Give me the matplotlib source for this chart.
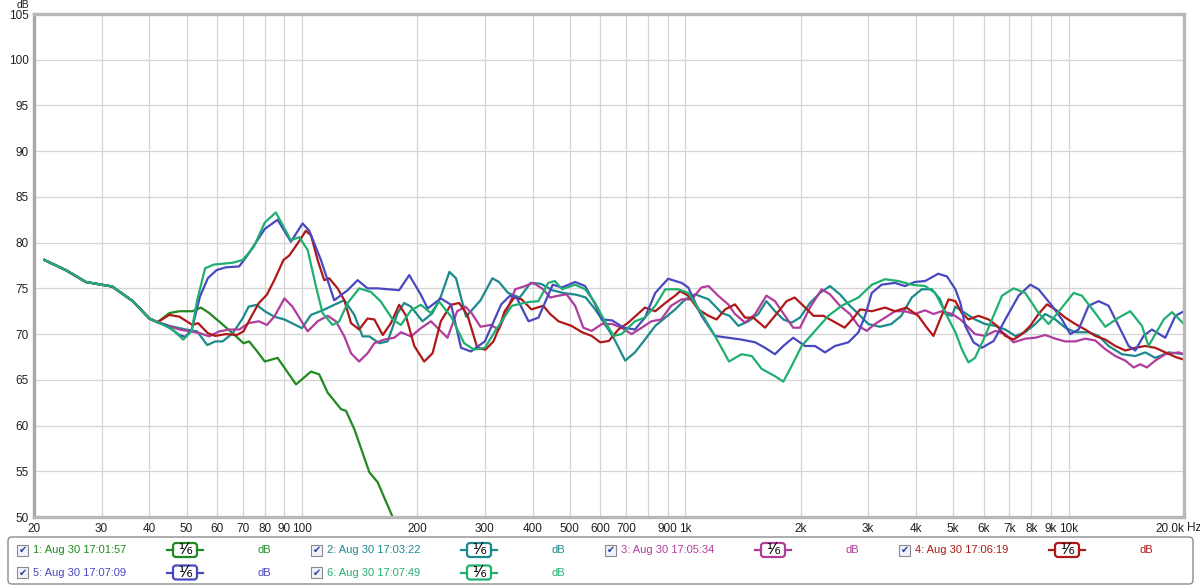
import matplotlib
matplotlib.use("Agg")
import matplotlib.pyplot as plt
from matplotlib.patches import Rectangle, FancyBboxPatch
from matplotlib.ticker import NullLocator

plt.rcParams["font.family"] = ["Liberation Sans", "DejaVu Sans"]

# --- data --------------------------------------------------------------------
COMMON_HZ = [21.3, 24.2, 27.3, 30.0, 32.0, 36.2, 40.0, 42.0]
COMMON_DB = [78.1, 77.0, 75.7, 75.4, 75.2, 73.6, 71.7, 71.3]

HZ_1 = COMMON_HZ + [45.1, 47.9, 51.8, 54.5, 57.3, 61.5, 65.9, 70.4, 72.8, 75.8, 80, 86.4,
                    96.5, 105.6, 110.9, 116.7, 126.4, 130.3, 137.0, 149.9, 157.6, 172.4, 180]
DB_1 = COMMON_DB + [72.3, 72.5, 72.5, 72.9, 72.3, 71.2, 70.1, 69.0, 69.2, 68.3, 67.0, 67.4,
                    64.5, 65.9, 65.6, 63.6, 61.8, 61.6, 59.6, 54.9, 53.8, 50.0, 48.0]

HZ_2 = COMMON_HZ + [45.1, 49.8, 53.3, 56.6, 59.4, 62.1, 66, 70, 72.6, 76.2, 80, 84.7, 90, 100,
                    105.6, 113.2, 121.4, 129, 137, 143.9, 149.9, 159.1, 167.3, 177.7, 184.8,
                    192.5, 206.3, 219.1, 230.3, 242.5, 252.3, 268, 292.4, 313.9, 326.5, 345,
                    370, 395, 420, 450, 480, 520, 550, 582, 606, 650, 697, 739, 785, 835, 887,
                    941, 1000, 1061, 1150, 1246, 1305, 1376, 1461, 1551, 1628, 1714, 1802,
                    1894, 1992, 2115, 2246, 2385, 2532, 2688, 2830, 3004, 3218, 3448, 3660,
                    3898, 4139, 4396, 4620, 4773, 4968, 5062, 5373, 5699, 6060, 6435, 6835,
                    7260, 7707, 8185, 8693, 9230, 9802, 10409, 11276, 11976, 12715, 13771,
                    14924, 15847, 16831, 18243, 20000]
DB_2 = COMMON_DB + [70.9, 70.5, 70.3, 68.8, 69.2, 69.2, 70.1, 71.7, 73.0, 73.2, 72.5, 71.9, 71.6,
                    70.65, 72.1, 72.6, 73.2, 73.7, 72.1, 69.75, 69.75, 69.0, 69.2, 72.3, 73.4,
                    73.0, 71.4, 72.3, 74.1, 76.8, 76.1, 71.9, 73.7, 76.1, 75.7, 74.5, 74.0,
                    75.6, 75.5, 74.8, 74.5, 74.3, 74.0, 72.7, 71.6, 69.6, 67.1, 68.0, 69.4,
                    70.9, 71.8, 72.7, 73.8, 74.35, 73.8, 72.3, 72.0, 70.9, 71.4, 72.2, 73.6,
                    72.5, 71.6, 71.25, 71.8, 73.4, 74.5, 75.25, 74.35, 73.1, 72.2, 71.1, 70.8,
                    71.1, 72.0, 74.0, 74.9, 74.9, 73.8, 72.2, 72.0, 73.0, 72.3, 71.6, 71.1,
                    70.9, 70.5, 69.8, 70.2, 71.1, 72.2, 71.6, 70.7, 70.2, 70.2, 69.8, 68.7,
                    67.8, 67.6, 68.0, 67.4, 68.0, 67.8]

HZ_3 = COMMON_HZ + [44.1, 47.9, 54.2, 57.3, 60.9, 64.8, 68.6, 72.6, 77.2, 81, 84.7, 90, 94.5,
                    103.5, 109.9, 116.7, 122.6, 129, 134.3, 141, 148.3, 154.5, 164, 174.1,
                    181.3, 192.5, 204.3, 217, 228, 239.7, 254, 267, 277, 292.4, 310, 326.5,
                    342, 360, 382, 401, 426, 444, 467, 490, 516, 542, 570, 606, 644, 682, 724,
                    770, 816, 865, 919, 978, 1040, 1102, 1150, 1218, 1294, 1348, 1432, 1522,
                    1628, 1714, 1820, 1912, 1992, 2115, 2269, 2385, 2532, 2688, 2830, 2974,
                    3124, 3321, 3523, 3741, 3970, 4222, 4440, 4666, 4968, 5220, 5373, 5699,
                    6060, 6435, 6835, 7186, 7707, 8185, 8693, 9230, 9802, 10409, 11050, 11737,
                    12466, 13239, 14060, 14776, 15382, 16000, 16831, 17876, 19375, 20000]
DB_3 = COMMON_DB + [71.0, 70.5, 70.1, 69.75, 70.3, 70.5, 70.5, 71.2, 71.4, 71.0, 71.9, 73.9,
                    73.0, 70.3, 71.4, 72.0, 71.4, 69.75, 67.9, 67.0, 67.9, 69.0, 69.4, 69.6,
                    70.2, 69.75, 70.65, 71.4, 70.5, 69.6, 72.5, 73.0, 72.3, 70.8, 71.0, 70.5,
                    72.5, 74.9, 75.25, 75.6, 74.9, 74.0, 74.2, 74.35, 73.1, 70.7, 70.35, 71.1,
                    71.1, 70.7, 70.0, 70.7, 71.4, 71.6, 73.1, 73.8, 73.8, 75.1, 75.25, 74.2,
                    73.25, 72.2, 71.25, 72.2, 74.2, 73.6, 72.0, 70.7, 70.7, 72.9, 74.9, 74.35,
                    73.1, 72.2, 70.9, 70.35, 71.1, 71.8, 72.5, 72.5, 72.2, 72.6, 72.2, 72.5,
                    72.2, 71.6, 71.1, 70.0, 69.8, 70.35, 70.0, 69.1, 69.5, 69.6, 69.9, 69.5,
                    69.2, 69.2, 69.5, 69.3, 68.35, 67.6, 67.1, 66.35, 66.7, 66.35, 67.1, 67.8,
                    68.0, 67.8]

HZ_4 = COMMON_HZ + [45.1, 47.9, 51.8, 53.6, 56.8, 59.4, 63.3, 67.6, 70.4, 73.3, 77.2, 81, 84.7,
                    89.5, 92.7, 97.4, 102.4, 105.6, 109.9, 114.3, 117.8, 123.9, 129, 134.3, 141,
                    148.3, 154.5, 162.5, 170.7, 179.3, 186.4, 196.4, 208.4, 219.1, 230.3, 244.6,
                    257.2, 270.1, 286.7, 301, 316, 326.5, 338, 358, 374, 397, 426, 444, 467, 505,
                    538, 570, 600, 632, 669, 710, 785, 835, 887, 941, 970, 1018, 1081, 1150,
                    1207, 1270, 1348, 1432, 1505, 1615, 1714, 1838, 1930, 2032, 2161, 2292,
                    2433, 2605, 2751, 2859, 3066, 3321, 3523, 3776, 4052, 4268, 4440, 4620,
                    4864, 5066, 5266, 5478, 5819, 6185, 6503, 6835, 7186, 7555, 7942, 8349,
                    8779, 9230, 9802, 10409, 11050, 11737, 12466, 13239, 14060, 14924, 15847,
                    16831, 17876, 18996, 20000]
DB_4 = COMMON_DB + [72.1, 71.9, 71.0, 71.2, 70.1, 69.8, 70.0, 69.9, 70.3, 71.7, 73.4, 74.3, 75.9,
                    78.1, 78.6, 79.9, 81.3, 80.8, 78.1, 75.9, 76.1, 75.0, 73.7, 71.2, 70.5,
                    71.7, 71.6, 69.9, 71.2, 73.2, 72.1, 68.7, 67.0, 67.9, 71.4, 73.2, 73.4,
                    72.1, 68.5, 68.3, 69.2, 70.65, 72.5, 74.0, 73.8, 72.7, 73.1, 72.2, 71.4,
                    70.9, 70.2, 69.8, 69.1, 69.25, 70.5, 71.25, 72.9, 72.5, 73.4, 74.2, 74.7,
                    74.2, 72.7, 72.0, 71.6, 72.7, 73.25, 71.8, 71.8, 70.7, 72.0, 73.6, 74.0,
                    73.1, 72.0, 72.0, 71.4, 70.7, 71.8, 72.7, 72.5, 72.9, 72.5, 72.9, 72.0,
                    70.7, 69.8, 71.6, 73.8, 73.6, 72.3, 71.6, 72.0, 71.6, 70.9, 69.8, 69.4,
                    70.0, 70.9, 72.2, 73.25, 72.7, 71.8, 71.1, 70.5, 69.8, 69.4, 68.7, 68.2,
                    68.5, 68.7, 68.5, 68.0, 67.5, 67.2]

HZ_5 = COMMON_HZ + [44.1, 47.9, 49.6, 51.6, 54.2, 56.8, 59.9, 63.3, 68.6, 72.6, 80, 86.4, 93.6,
                    100.4, 104.5, 112.1, 121.4, 131.6, 139.7, 148.3, 157.6, 179.3, 190.5, 204.3,
                    212.8, 230.3, 245, 260, 276, 300, 331, 349, 363, 390, 414, 451, 477, 516,
                    548, 582, 606, 644, 691, 739, 785, 835, 902, 978, 1018, 1102, 1195, 1294,
                    1402, 1522, 1615, 1714, 1802, 1912, 2053, 2180, 2315, 2458, 2664, 2830,
                    2945, 3066, 3251, 3523, 3741, 3970, 4222, 4570, 4817, 5066, 5220, 5373,
                    5650, 5942, 6376, 6835, 7407, 7942, 8349, 9048, 9607, 10101, 10619, 11276,
                    11976, 12715, 13505, 14342, 14924, 15690, 16493, 17876, 18996, 20000]
DB_5 = COMMON_DB + [71.0, 69.9, 69.7, 70.5, 74.1, 76.1, 77.0, 77.3, 77.4, 78.8, 81.5, 82.5, 80.1,
                    82.1, 81.3, 78.1, 73.7, 74.8, 75.9, 75.0, 75.0, 74.8, 76.45, 74.3, 72.8,
                    73.9, 73.2, 68.5, 68.1, 69.2, 73.25, 74.2, 74.0, 71.4, 71.8, 75.4, 75.1,
                    75.7, 75.25, 73.25, 71.6, 71.5, 70.7, 70.5, 71.8, 74.5, 76.05, 75.6, 75.1,
                    72.0, 69.8, 69.6, 69.4, 69.1, 68.5, 67.8, 68.7, 69.6, 68.7, 68.7, 68.0,
                    68.7, 69.1, 70.2, 72.0, 74.5, 75.4, 75.6, 75.25, 75.7, 75.8, 76.6, 76.3,
                    74.9, 73.4, 70.9, 69.1, 68.5, 69.25, 71.6, 74.2, 75.4, 74.9, 73.1, 71.6,
                    70.0, 70.5, 73.1, 73.6, 73.1, 70.9, 68.7, 68.2, 69.8, 70.5, 69.6, 72.0, 72.5]

HZ_6 = COMMON_HZ + [46.0, 49.0, 51.5, 53.3, 55.9, 58.9, 65.9, 70, 74.8, 80, 85.5, 93.6, 98.4,
                    103.5, 108.8, 113.2, 120.2, 125.1, 131.6, 141.1, 151.4, 160.7, 172.4, 181.3,
                    192.5, 204.3, 217, 228, 245, 265, 281, 300, 320, 353, 389.6, 413.8, 439,
                    457, 477, 516, 548, 582, 606, 650, 682, 739, 785, 835, 887, 959, 1018, 1102,
                    1195, 1270, 1300, 1402, 1491, 1582, 1714, 1802, 1894, 2012, 2180, 2362,
                    2559, 2830, 3066, 3321, 3598, 3898, 4222, 4486, 4773, 5066, 5266, 5478,
                    5699, 6000, 6311, 6703, 7186, 7707, 8349, 8867, 9607, 10305, 10834, 11737,
                    12466, 13505, 14485, 15536, 16160, 17705, 18610, 20000]
DB_6 = COMMON_DB + [70.5, 69.4, 70.3, 73.7, 77.2, 77.6, 77.8, 78.1, 79.5, 82.2, 83.3, 80.25, 80.6,
                    79.2, 75.2, 72.3, 71.0, 71.4, 73.4, 75.0, 74.6, 73.55, 71.6, 71.0, 72.6,
                    73.2, 72.3, 73.55, 71.9, 69.0, 68.3, 68.5, 70.4, 73.1, 73.5, 73.6, 75.6,
                    75.8, 74.9, 75.4, 74.9, 73.4, 72.0, 69.8, 70.0, 71.4, 71.8, 73.1, 74.9,
                    74.9, 74.5, 72.3, 69.8, 67.8, 67.0, 67.8, 67.6, 66.2, 65.4, 64.8, 66.5,
                    68.7, 70.35, 72.0, 73.1, 74.0, 75.4, 76.0, 75.8, 75.4, 75.25, 74.5, 72.3,
                    70.2, 68.35, 66.9, 67.4, 69.4, 71.6, 74.2, 75.0, 74.5, 72.3, 71.1, 72.9,
                    74.5, 74.2, 72.3, 70.8, 71.8, 72.5, 70.9, 68.7, 71.6, 72.4, 71.1]

LABELS = ["1: Aug 30 17:01:57", "2: Aug 30 17:03:22", "3: Aug 30 17:05:34",
          "4: Aug 30 17:06:19", "5: Aug 30 17:07:09", "6: Aug 30 17:07:49"]
COLORS = ["#1f8a1f", "#1b8a8c", "#b03c9c", "#b01818", "#4848c0", "#1fb070"]

X_TICKS = [20, 30, 40, 50, 60, 70, 80, 90, 100, 200, 300, 400, 500, 600, 700, 800, 900,
           1000, 2000, 3000, 4000, 5000, 6000, 7000, 8000, 9000, 10000, 20000]
X_TICK_LABELS = ["20", "30", "40", "50", "60", "70", "80", "90", "100", "200", "300", "400",
                 "500", "600", "700", "", "900", "1k", "2k", "3k", "4k", "5k", "6k", "7k",
                 "8k", "9k", "10k", "20.0k"]
Y_TICKS = [50, 55, 60, 65, 70, 75, 80, 85, 90, 95, 100, 105]

series = [(HZ_1, DB_1), (HZ_2, DB_2), (HZ_3, DB_3), (HZ_4, DB_4), (HZ_5, DB_5), (HZ_6, DB_6)]

# --- figure -------------------------------------------------------------------
W, H = 1200, 587
fig = plt.figure(figsize=(W / 100, H / 100), dpi=100)
ax = fig.add_axes([34 / W, 1 - 517 / H, 1150 / W, 503 / H])

for (hz, db), color in zip(series, COLORS):
    ax.plot(hz, db, color=color, lw=1.6, solid_joinstyle="round", clip_on=True)

ax.set_xscale("log")
ax.set_xlim(20, 20000)
ax.set_ylim(50, 105)
ax.xaxis.set_minor_locator(NullLocator())
ax.set_xticks(X_TICKS)
ax.set_xticklabels(X_TICK_LABELS)
ax.set_yticks(Y_TICKS)
ax.tick_params(length=0, labelsize=8.5, labelcolor="#202020")
ax.tick_params(axis="x", pad=4)
ax.tick_params(axis="y", pad=4)
ax.get_xticklabels()[-1].set_ha("right")
ax.grid(True, color="#d4d4d4", lw=0.9)
ax.set_axisbelow(True)
for side, sp in ax.spines.items():
    sp.set_color("#b8b8b8")
    sp.set_linewidth(2.4)
ax.spines["left"].set_color("#a8a8a8")

fig.text(23 / W, 1 - 5 / H, "dB", ha="center", va="center", fontsize=7.5, color="#202020")
fig.text(1187 / W, 1 - 528 / H, "Hz", ha="left", va="center", fontsize=8.5, color="#202020")

# --- legend panel (pixel coordinates) ------------------------------------------
lg = fig.add_axes([0, 0, 1, 54 / H])
lg.set_xlim(0, W)
lg.set_ylim(587, 533)
lg.axis("off")
lg.add_patch(FancyBboxPatch((8, 537), 1185, 47, boxstyle="round,pad=0,rounding_size=4",
                            fc="white", ec="#8c8c8c", lw=1))
for i, (label, color) in enumerate(zip(LABELS, COLORS)):
    row, col = (0, i) if i < 4 else (1, i - 4)
    x0 = 17 + col * 294
    y = 550 + row * 22.5
    lg.add_patch(Rectangle((x0, y - 5.5), 11, 11, fc="#eef2fa", ec="#8a8a8a", lw=0.8))
    lg.text(x0 + 5.5, y, "\u2714", color="#2a3f9a", fontsize=7, ha="center", va="center",
            family="DejaVu Sans")
    lg.text(x0 + 16, y, label, color=color, fontsize=8, ha="left", va="center")
    cx = x0 + 168
    lg.plot([cx - 18, cx - 12], [y, y], color=color, lw=1.6)
    lg.plot([cx + 12, cx + 18], [y, y], color=color, lw=1.6)
    lg.add_patch(FancyBboxPatch((cx - 12, y - 7), 24, 14, boxstyle="round,pad=0,rounding_size=3",
                                fc="white", ec=color, lw=1.6))
    lg.text(cx, y, "\u00b9\u2044\u2086", color="black", fontsize=11, ha="center", va="center",
            family=["DejaVu Sans"])
    lg.text(x0 + 247, y, "dB", color=color, fontsize=8, ha="center", va="center")

fig.savefig("out.png", dpi=100)
